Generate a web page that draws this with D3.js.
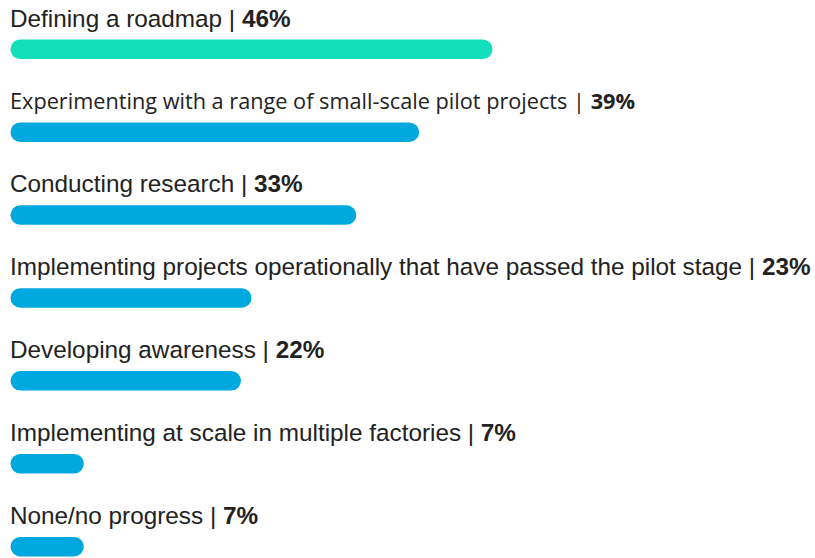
<!DOCTYPE html>
<html>
<head>
<meta charset="utf-8">
<script src="https://cdn.jsdelivr.net/npm/d3@7"></script>
<style>
    html, body { margin: 0; padding: 0; background: #fff; }
    .label { font-family: "Liberation Sans", Arial, Helvetica, sans-serif; font-size: 24.3px; fill: #222; }
    .label.alt { font-family: "Open Sans", sans-serif; font-size: 21.7px; }
    .label .pct { font-weight: bold; }
</style>
</head>
<body>
<svg id="chart"></svg>
<script>
// --- DATA ---
const categories = [
    "Defining a roadmap",
    "Experimenting with a range of small-scale pilot projects",
    "Conducting research",
    "Implementing projects operationally that have passed the pilot stage",
    "Developing awareness",
    "Implementing at scale in multiple factories",
    "None/no progress"
];
const values = [46, 39, 33, 23, 22, 7, 7];
const barColors = ["#14dfbc", "#00a8e0", "#00a8e0", "#00a8e0", "#00a8e0", "#00a8e0", "#00a8e0"];

document.addEventListener("DOMContentLoaded", function() {
    // --- SETUP ---
    const width = 815;
    const height = 558;
    const margin = { left: 10.5, top: 39.5 };
    const barHeight = 19.5;
    const rowStep = 82.9;

    const svg = d3.select("#chart")
        .attr("width", width)
        .attr("height", height);

    const data = categories.map((c, i) => ({ name: c, value: values[i], color: barColors[i] }));

    // Scales
    const x = d3.scaleLinear().domain([0, 46]).range([0, 482]);
    const y = d3.scaleBand()
        .domain(categories)
        .range([margin.top, margin.top + rowStep * categories.length]);

    const g = svg.append("g").attr("transform", `translate(${margin.left},0)`);

    const rows = g.selectAll("g.row")
        .data(data)
        .enter()
        .append("g")
        .attr("class", "row")
        .attr("transform", d => `translate(0,${y(d.name)})`);

    // bars (rounded both ends)
    rows.append("rect")
        .attr("x", 0)
        .attr("y", 0)
        .attr("width", d => x(d.value))
        .attr("height", barHeight)
        .attr("rx", barHeight / 2)
        .attr("ry", barHeight / 2)
        .attr("fill", d => d.color);

    // labels above each bar
    const label = rows.append("text")
        .attr("class", (d, i) => i === 1 ? "label alt" : "label")
        .attr("x", -0.5)
        .attr("y", -13);
    label.append("tspan").text(d => d.name + " | ");
    label.append("tspan").attr("class", "pct").text(d => d.value + "%");
});
</script>
</body>
</html>
